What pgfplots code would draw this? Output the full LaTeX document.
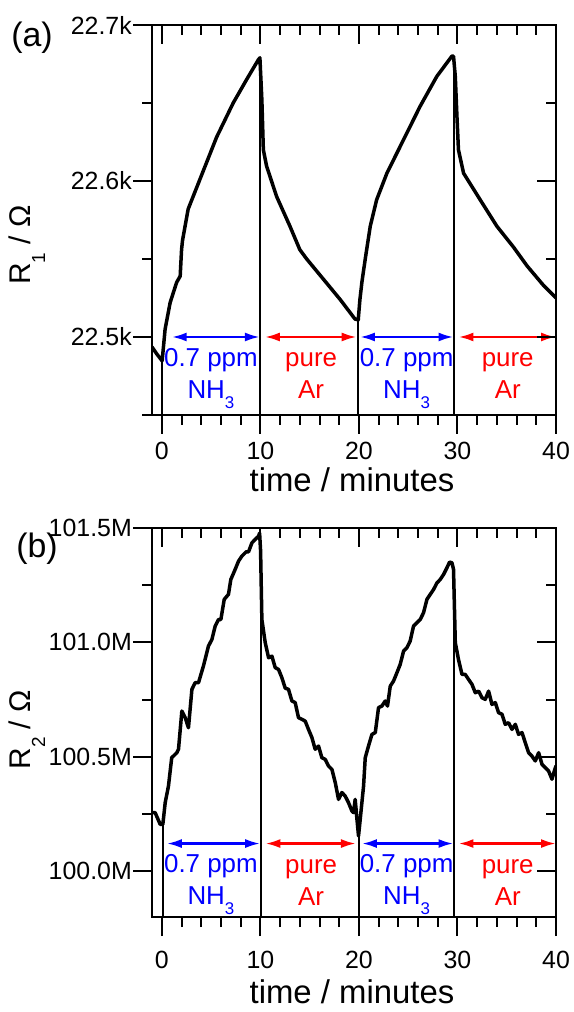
\documentclass[border=0pt]{standalone}
\usepackage{fontspec}
\setmainfont{Liberation Sans}
\usepackage{pgfplots}
\pgfplotsset{compat=1.18}
\usetikzlibrary{arrows.meta}

\pgfplotsset{
  common/.style={
    scale only axis, width=404bp,
    xmin=-1, xmax=40,
    axis line style={line width=2bp},
    tick style={line width=2bp, black},
    major tick length=19bp, minor tick length=10bp,
    xtick={0,10,20,30,40},
    minor xtick={2,4,6,8,12,14,16,18,22,24,26,28,32,34,36,38},
    scaled ticks=false,
  },
  panel/.style={
    common,
    tick align=outside,
    xtick pos=left, ytick pos=left,
    tick label style={font=\fontsize{25}{29}\selectfont},
    /pgf/number format/assume math mode=true,
    yticklabel style={inner sep=1bp},
  },
  mirror/.style={
    common,
    tick align=inside,
    xtick pos=right, ytick pos=right,
    xticklabels={}, yticklabels={},
  },
  topbox/.style={
    at={(152bp,597bp)}, anchor=south west, height=390bp,
    ymin=22450, ymax=22700,
    ytick={22500,22600,22700},
    minor ytick={22450,22550,22650},
  },
  botbox/.style={
    at={(152bp,95bp)}, anchor=south west, height=389bp,
    ymin=99.8, ymax=101.5,
    ytick={100,100.5,101,101.5},
    minor ytick={100.25,100.75,101.25},
  },
  curve/.style={black, line width=3.5bp, line join=round, line cap=round},
  drop/.style={black, line width=2bp},
}
\tikzset{
  dblarr/.style={line width=2.5bp, {Latex[length=15bp,width=9bp]}-{Latex[length=15bp,width=9bp]}},
  ann/.style={anchor=base, font=\fontsize{26}{30}\selectfont},
}

\begin{document}
\begin{tikzpicture}
\useasboundingbox (0,0) rectangle (574bp,1012bp);

% ---------- (a) R1 ----------
\begin{axis}[panel, topbox,
  yticklabels={22.5k,22.6k,22.7k},
  xticklabel style={inner sep=1bp, yshift=-7bp},
  xlabel={time / minutes},
  ylabel={R\raisebox{-15bp}{\fontsize{19}{19}\selectfont 1} / Ω},
  every axis x label/.style={at={(rel axis cs:0.495,-0.166)}, anchor=center, inner sep=0pt, font=\fontsize{33}{37}\selectfont},
  every axis y label/.style={at={(rel axis cs:-0.31,0.436)}, rotate=90, anchor=center, font=\fontsize{30}{34}\selectfont},
]
\addplot[drop] coordinates {(0,22485)(0,22450)};
\addplot[drop] coordinates {(9.95,22679)(9.95,22450)};
\addplot[drop] coordinates {(19.93,22511)(19.93,22450)};
\addplot[drop] coordinates {(29.6,22680)(29.6,22450)};
\addplot[curve] coordinates {
  (-1,22493.6)(-0.5,22489)(0.03,22484.7)(0.33,22505)(0.84,22522)(1.5,22535)
  (1.86,22539)(2.0,22556)(2.1,22562)(2.67,22582)(3.86,22601)(5.55,22628)
  (7.24,22650)(8.6,22665)(9.78,22677.6)(9.95,22679)(10.15,22652)(10.3,22620)
  (10.63,22609.5)(11.65,22590)(13.0,22571)(14.0,22556)(14.7,22550)(16.4,22537)
  (18.1,22524)(19.6,22511.5)(19.93,22511)(20.1,22524)(20.3,22535)(20.64,22550)
  (21.15,22571)(21.8,22588)(22.84,22605)(24.53,22626.5)(26.22,22648)(27.9,22667)
  (29.43,22680)(29.6,22680)(29.78,22667)(29.95,22641)(30.1,22620)(30.62,22605)
  (32.3,22588)(34.0,22571)(35.7,22557.5)(37.06,22545.6)(38.74,22533)(40,22525)
};
\draw[dblarr, blue] (axis cs:1.0,22500) -- (axis cs:9.95,22500);
\draw[dblarr, red] (axis cs:10.45,22500) -- (axis cs:19.77,22500);
\draw[dblarr, blue] (axis cs:20.1,22500) -- (axis cs:29.6,22500);
\draw[dblarr, red] (axis cs:30.1,22500) -- (axis cs:40,22500);
\node[ann, blue] at (axis cs:4.98,22480.8) {0.7 ppm};
\node[ann, blue] at (axis cs:4.98,22460.3) {NH\raisebox{-10bp}{\fontsize{17}{17}\selectfont 3}};
\node[ann, red] at (axis cs:15.15,22480.8) {pure};
\node[ann, red] at (axis cs:15.15,22460.3) {Ar};
\node[ann, blue] at (axis cs:24.84,22480.8) {0.7 ppm};
\node[ann, blue] at (axis cs:24.84,22460.3) {NH\raisebox{-10bp}{\fontsize{17}{17}\selectfont 3}};
\node[ann, red] at (axis cs:35.1,22480.8) {pure};
\node[ann, red] at (axis cs:35.1,22460.3) {Ar};
\end{axis}
\begin{axis}[mirror, topbox]
\end{axis}

% ---------- (b) R2 ----------
\begin{axis}[panel, botbox,
  yticklabels={100.0M,100.5M,101.0M,101.5M},
  xticklabel style={inner sep=1bp, yshift=-14bp},
  xlabel={time / minutes},
  ylabel={R\raisebox{-15bp}{\fontsize{19}{19}\selectfont 2} / Ω},
  every axis x label/.style={at={(rel axis cs:0.495,-0.193)}, anchor=center, inner sep=0pt, font=\fontsize{33}{37}\selectfont},
  every axis y label/.style={at={(rel axis cs:-0.31,0.481)}, rotate=90, anchor=center, font=\fontsize{30}{34}\selectfont},
]
\addplot[drop] coordinates {(0.1,100.205)(0.1,99.8)};
\addplot[drop] coordinates {(10.05,101.40)(10.05,99.8)};
\addplot[drop] coordinates {(19.96,100.154)(19.96,99.8)};
\addplot[drop] coordinates {(29.65,101.33)(29.65,99.8)};
\addplot[curve] coordinates {
  (-1,100.256)(-0.68,100.256)(-0.17,100.205)(0.1,100.205)(0.34,100.30)(0.67,100.372)
  (1.0,100.496)(1.52,100.518)(1.69,100.533)(2.03,100.70)(2.37,100.671)(2.7,100.627)
  (3.05,100.795)(3.38,100.824)(3.72,100.824)(4.22,100.897)(4.73,100.984)(5.08,101.013)
  (5.41,101.071)(5.75,101.100)(5.99,101.100)(6.33,101.188)(6.76,101.21)(7.0,101.275)
  (7.44,101.319)(7.78,101.355)(8.12,101.377)(8.56,101.396)(8.8,101.396)(9.14,101.435)
  (9.47,101.45)(9.81,101.464)(9.92,101.478)(10.02,101.40)(10.15,101.1)(10.49,100.999)
  (10.83,100.933)(11.17,100.94)(11.5,100.89)(11.84,100.882)(12.18,100.846)(12.52,100.80)
  (12.85,100.795)(13.2,100.744)(13.53,100.737)(13.87,100.671)(14.21,100.664)(14.55,100.656)
  (14.88,100.62)(15.23,100.584)(15.56,100.533)(15.9,100.547)(16.24,100.496)(16.58,100.489)
  (16.91,100.46)(17.26,100.445)(17.6,100.387)(17.93,100.314)(18.27,100.344)(18.6,100.329)
  (18.94,100.30)(19.29,100.263)(19.45,100.256)(19.62,100.314)(19.8,100.227)(19.96,100.154)
  (20.47,100.372)(20.64,100.496)(20.97,100.547)(21.32,100.598)(21.66,100.606)(21.99,100.715)
  (22.33,100.722)(22.67,100.744)(22.9,100.722)(23.18,100.809)(23.51,100.831)(23.86,100.868)
  (24.19,100.904)(24.53,100.962)(24.87,100.977)(25.2,101.006)(25.54,101.071)(25.88,101.086)
  (26.22,101.10)(26.56,101.13)(26.9,101.188)(27.24,101.21)(27.57,101.231)(27.92,101.26)
  (28.25,101.275)(28.59,101.297)(28.93,101.326)(29.2,101.351)(29.44,101.348)(29.6,101.319)
  (29.78,100.999)(30.1,100.926)(30.46,100.86)(30.79,100.86)(31.13,100.838)(31.47,100.817)
  (31.81,100.78)(32.15,100.787)(32.49,100.758)(32.82,100.751)(33.16,100.787)(33.5,100.729)
  (33.84,100.737)(34.17,100.693)(34.52,100.686)(34.85,100.642)(35.19,100.649)(35.53,100.62)
  (35.87,100.642)(36.2,100.598)(36.55,100.606)(36.88,100.562)(37.22,100.518)(37.56,100.503)
  (37.9,100.482)(38.24,100.518)(38.58,100.467)(38.91,100.453)(39.25,100.438)(39.59,100.402)
  (39.83,100.438)(40,100.46)
};
\draw[dblarr, blue] (axis cs:0.5,100.121) -- (axis cs:9.98,100.121);
\draw[dblarr, red] (axis cs:10.5,100.121) -- (axis cs:19.7,100.121);
\draw[dblarr, blue] (axis cs:20.3,100.121) -- (axis cs:29.6,100.121);
\draw[dblarr, red] (axis cs:30.1,100.121) -- (axis cs:40,100.121);
\node[ann, blue] at (axis cs:4.98,99.996) {0.7 ppm};
\node[ann, blue] at (axis cs:4.98,99.856) {NH\raisebox{-10bp}{\fontsize{17}{17}\selectfont 3}};
\node[ann, red] at (axis cs:15.15,99.992) {pure};
\node[ann, red] at (axis cs:15.15,99.851) {Ar};
\node[ann, blue] at (axis cs:24.84,99.996) {0.7 ppm};
\node[ann, blue] at (axis cs:24.84,99.856) {NH\raisebox{-10bp}{\fontsize{17}{17}\selectfont 3}};
\node[ann, red] at (axis cs:35.1,99.992) {pure};
\node[ann, red] at (axis cs:35.1,99.851) {Ar};
\end{axis}
\begin{axis}[mirror, botbox]
\end{axis}

\node[font=\fontsize{34}{38}\selectfont] at (32bp,974bp) {(a)};
\node[font=\fontsize{34}{38}\selectfont] at (37bp,463bp) {(b)};
\end{tikzpicture}
\end{document}
